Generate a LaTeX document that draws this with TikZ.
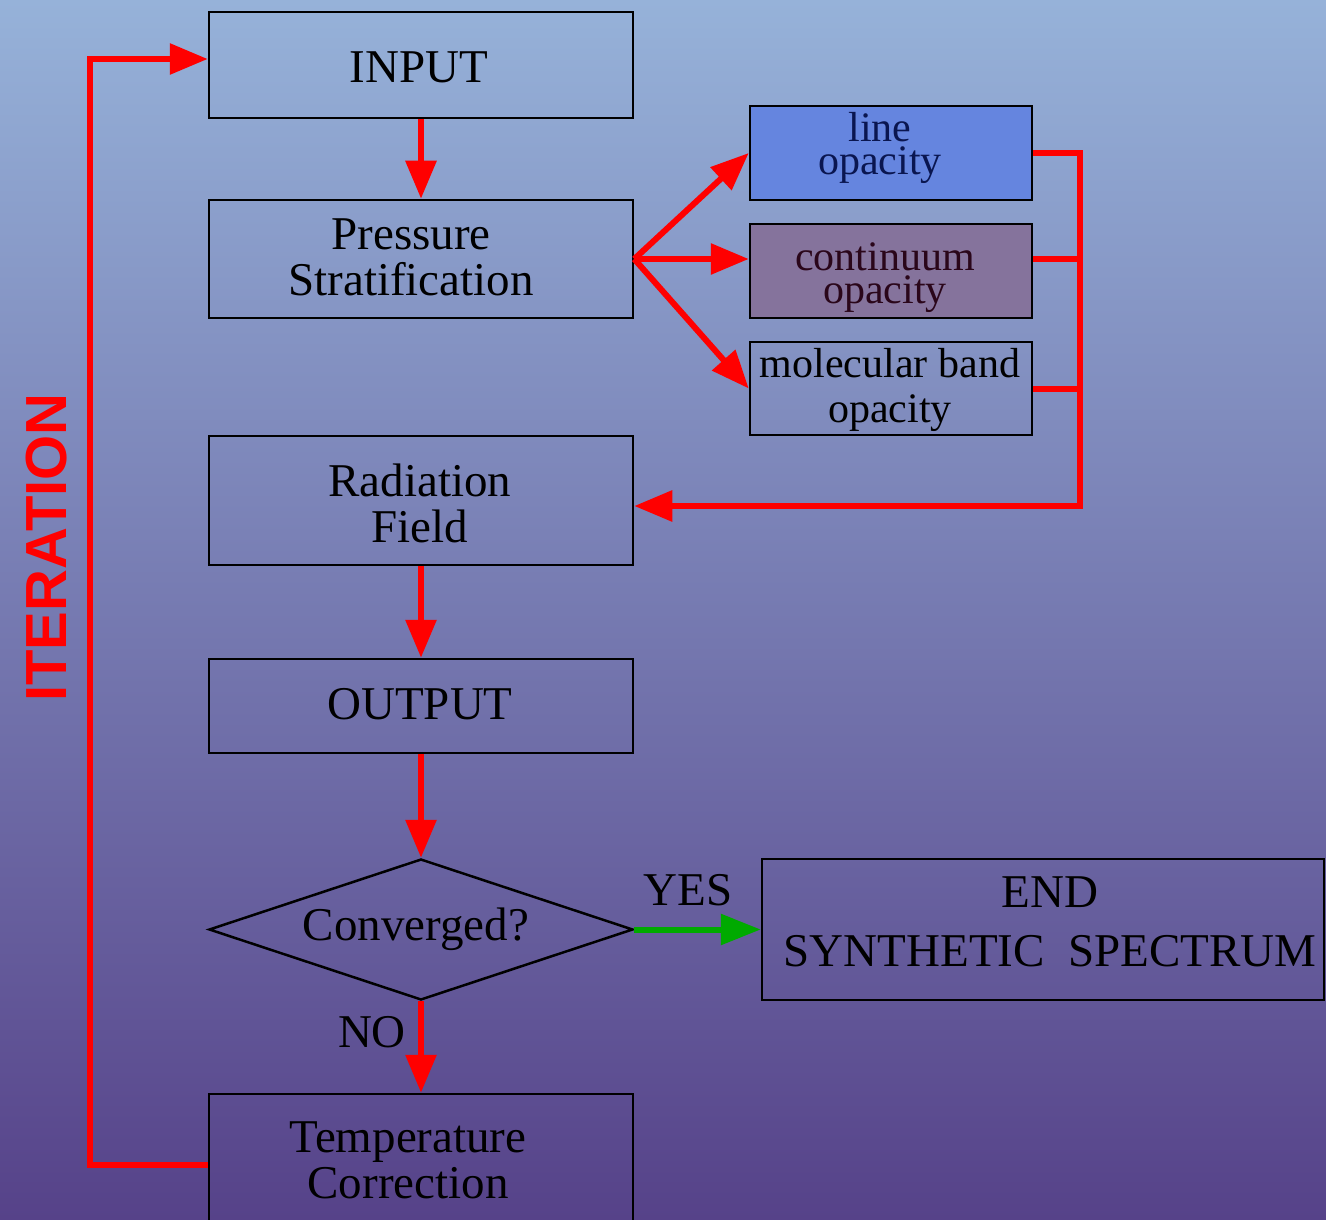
\documentclass[tikz,border=0pt]{standalone}
\usepackage{fontspec}
\setmainfont{Liberation Serif}
\newfontfamily\iterfont{Liberation Sans}
\usetikzlibrary{arrows.meta,shapes.geometric}
\definecolor{bgtop}{RGB}{150,178,217}
\definecolor{bgbot}{RGB}{86,66,137}
\definecolor{redc}{RGB}{255,0,0}
\definecolor{greenc}{RGB}{0,170,0}
\definecolor{linefill}{RGB}{101,133,223}
\definecolor{contfill}{RGB}{133,115,156}
\definecolor{linetext}{RGB}{10,22,80}
\definecolor{conttext}{RGB}{42,6,26}
\begin{document}
\begin{tikzpicture}[x=1pt,y=-1pt,
  box/.style={draw=black, line width=2.5pt, rectangle, inner sep=0pt},
  bigtxt/.style={font=\fontsize{47}{46}\selectfont, align=center, anchor=base, inner sep=0pt},
  smalltxt/.style={font=\fontsize{42}{33}\selectfont, align=center, anchor=base, inner sep=0pt},
  flow/.style={draw=redc, line width=6pt, -{Triangle[length=38pt,width=30pt]}},
  link/.style={draw=redc, line width=6pt},
  yesflow/.style={draw=greenc, line width=6pt, -{Triangle[length=40pt,width=30pt]}}
]
\useasboundingbox (0pt,0pt) rectangle (1326pt,-1220pt);
\shade[top color=bgtop, bottom color=bgbot] (0pt,0pt) rectangle (1326pt,-1220pt);

% boxes
\node[box, minimum width=424pt, minimum height=106pt] (input) at (421,65) {};
\node[box, minimum width=424pt, minimum height=118pt] (press) at (421,259) {};
\node[box, fill=linefill, minimum width=282pt, minimum height=94pt] (lineop) at (891,153) {};
\node[box, fill=contfill, minimum width=282pt, minimum height=94pt] (contop) at (891,271) {};
\node[box, minimum width=282pt, minimum height=93pt] (molop) at (891,388.5) {};
\node[box, minimum width=424pt, minimum height=129pt] (rad) at (421,500.5) {};
\node[box, minimum width=424pt, minimum height=94pt] (out) at (421,706) {};
\node[draw=black, line width=2.5pt, diamond, inner sep=0pt, minimum width=424pt, minimum height=141pt] (conv) at (421,929.5) {};
\node[box, minimum width=562pt, minimum height=141pt] (end) at (1043,929.5) {};
\node[box, minimum width=424pt, minimum height=130pt] (tc) at (421,1159) {};

% texts (anchor=base is the baseline of the last line)
\node[bigtxt] (inputtxt) at (419,83) {INPUT};
\node[bigtxt] (presstxt) at (411,295) {Pressure\\Stratification};
\node[smalltxt, text=linetext] (linetxt) at (880,175) {line\\opacity};
\node[smalltxt, text=conttext] (conttxt) at (885,303) {continuum\\opacity};
\node[font=\fontsize{42}{45}\selectfont, align=center, anchor=base, inner sep=0pt] (moltxt) at (890,422) {molecular band\\opacity};
\node[bigtxt] (radtxt) at (420,542) {Radiation\\Field};
\node[bigtxt] (outtxt) at (420,719) {OUTPUT};
\node[bigtxt] (convtxt) at (416,940) {Converged?};
\node[font=\fontsize{47}{59}\selectfont, align=center, anchor=base, inner sep=0pt] (endtxt) at (1050,966) {END\\SYNTHETIC\ \ SPECTRUM};
\node[bigtxt] (tctxt) at (408,1198) {Temperature\\Correction};
\node[bigtxt] (yes) at (688,905) {YES};
\node[bigtxt] (no) at (372,1047) {NO};
\node[rotate=90, text=redc, font=\iterfont\bfseries\fontsize{58}{58}\selectfont, inner sep=0pt] (iter) at (46.5,547.5) {ITERATION};

% connectors
\coordinate (bus) at (1080,506);
\coordinate (lb) at (90,1165);
\coordinate (lt) at (90,59);
\draw[flow] (input.south) -- (press.north);
\draw[flow] (press.east) -- (lineop.west);
\draw[flow] (press.east) -- (press.east -| contop.west);
\draw[flow] (press.east) -- (molop.west);
\draw[link] (press.east -| contop.east) -- (press.east -| bus);
\draw[link] (molop.east) -- (molop.east -| bus);
\draw[flow] (lineop.east) -| (bus) -- (bus -| rad.east);
\draw[flow] (rad.south) -- (out.north);
\draw[flow] (out.south) -- (conv.north);
\draw[yesflow] (conv.east) -- (end.west);
\draw[flow] (conv.south) -- (tc.north);
\draw[flow] (lb -| tc.west) -- (lb) -- (lt) -- (lt -| input.west);
\end{tikzpicture}
\end{document}
